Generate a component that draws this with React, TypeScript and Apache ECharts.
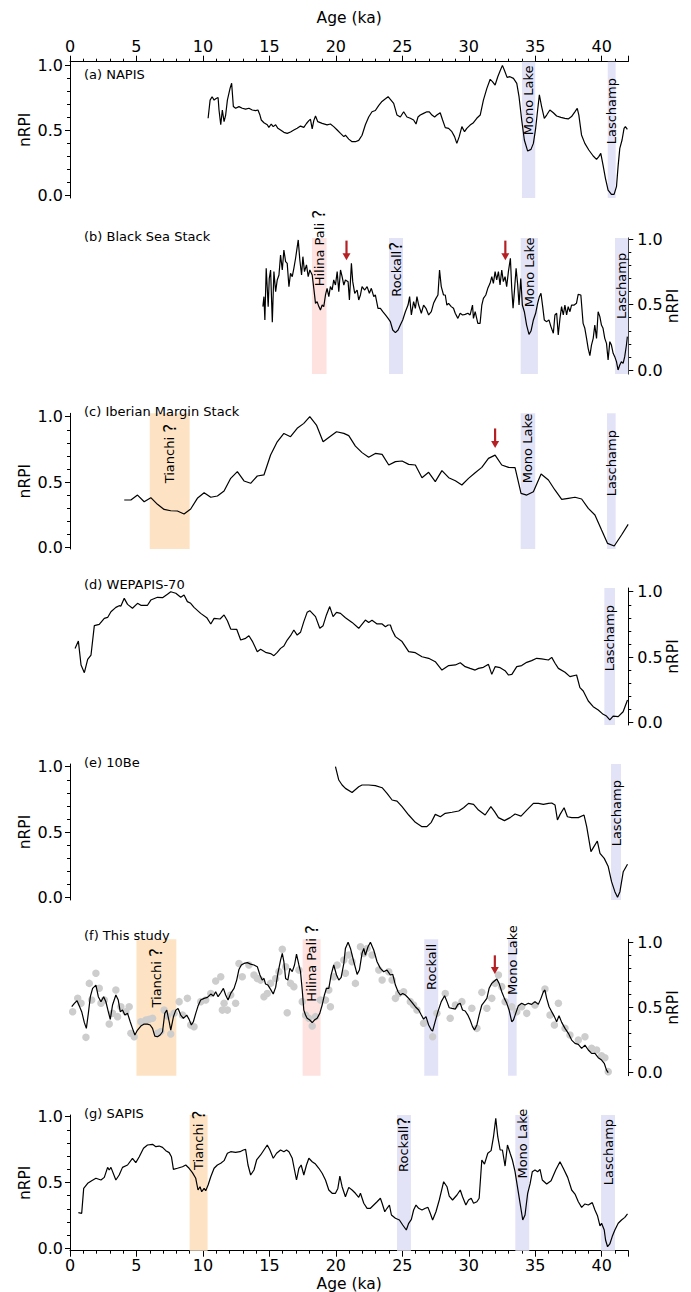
import React, { useEffect, useRef } from "react";
import * as echarts from "echarts";

// ---------------- data ----------------
const AGE_MIN = 0;
const AGE_MAX = 42;
const AGE_TICK_STEP = 5;
const RPI_TICK_STEP = 0.5;

const panelTitles = [
  "(a) NAPIS",
  "(b) Black Sea Stack",
  "(c) Iberian Margin Stack",
  "(d) WEPAPIS-70",
  "(e) 10Be",
  "(f) This study",
  "(g) SAPIS",
];

const napis: [number, number][] = [
  [10.39, 0.59], [10.54, 0.73], [10.69, 0.756], [10.84, 0.73], [10.96, 0.74], [11.14, 0.75], [11.21, 0.654],
  [11.34, 0.54], [11.46, 0.654], [11.59, 0.564], [11.71, 0.615], [11.84, 0.73], [12.04, 0.82], [12.16, 0.86],
  [12.29, 0.68], [12.46, 0.667], [12.71, 0.68], [12.96, 0.667], [13.21, 0.66], [13.46, 0.667], [13.71, 0.654],
  [13.96, 0.649], [14.14, 0.654], [14.29, 0.615], [14.39, 0.577], [14.59, 0.556], [14.84, 0.54], [14.96, 0.52],
  [15.14, 0.546], [15.29, 0.526], [15.47, 0.54], [15.64, 0.513], [15.84, 0.5], [16.09, 0.482], [16.34, 0.474],
  [16.59, 0.485], [16.84, 0.5], [17.09, 0.513], [17.34, 0.53], [17.59, 0.52], [17.79, 0.55], [17.97, 0.572],
  [18.09, 0.582], [18.22, 0.508], [18.34, 0.572], [18.47, 0.608], [18.64, 0.564], [18.97, 0.551], [19.34, 0.54],
  [19.59, 0.546], [19.84, 0.526], [20.1, 0.5], [20.35, 0.474], [20.6, 0.449], [20.72, 0.46], [20.97, 0.43],
  [21.22, 0.41], [21.47, 0.41], [21.72, 0.42], [21.97, 0.46], [22.22, 0.54], [22.47, 0.6], [22.72, 0.64],
  [22.97, 0.65], [23.23, 0.69], [23.47, 0.72], [23.73, 0.74], [23.93, 0.756], [24.1, 0.736], [24.35, 0.705],
  [24.6, 0.615], [24.85, 0.6], [25.1, 0.64], [25.35, 0.6], [25.6, 0.59], [25.85, 0.577], [26.03, 0.546],
  [26.18, 0.6], [26.35, 0.615], [26.6, 0.628], [26.85, 0.64], [27.03, 0.64], [27.23, 0.615], [27.43, 0.6],
  [27.6, 0.615], [27.85, 0.633], [28.03, 0.577], [28.23, 0.518], [28.48, 0.513], [28.73, 0.487], [28.93, 0.449],
  [29.1, 0.397], [29.28, 0.449], [29.48, 0.526], [29.68, 0.487], [29.85, 0.513], [30.1, 0.538], [30.35, 0.556],
  [30.6, 0.59], [30.86, 0.615], [31.1, 0.73], [31.36, 0.82], [31.61, 0.89], [31.78, 0.872], [31.98, 0.846],
  [32.18, 0.91], [32.36, 0.956], [32.53, 0.997], [32.68, 0.96], [32.88, 0.905], [33.1, 0.91], [33.36, 0.897],
  [33.61, 0.859], [33.78, 0.756], [33.98, 0.577], [34.18, 0.423], [34.43, 0.338], [34.68, 0.351], [34.86, 0.397],
  [35.03, 0.513], [35.18, 0.654], [35.31, 0.77], [35.48, 0.68], [35.68, 0.59], [35.86, 0.615], [36.1, 0.654],
  [36.36, 0.633], [36.61, 0.608], [36.93, 0.597], [37.23, 0.59], [37.48, 0.585], [37.73, 0.603], [37.98, 0.64],
  [38.16, 0.667], [38.28, 0.615], [38.48, 0.462], [38.73, 0.397], [39.03, 0.346], [39.36, 0.3], [39.61, 0.274],
  [39.78, 0.295], [39.93, 0.32], [40.1, 0.23], [40.28, 0.128], [40.48, 0.038], [40.73, 0.005], [40.93, 0.005],
  [41.11, 0.064], [41.23, 0.218], [41.36, 0.359], [41.53, 0.423], [41.68, 0.513], [41.78, 0.526], [41.93, 0.505],
];

const blackSea: [number, number][] = [
  [14.51, 0.485], [14.59, 0.561], [14.66, 0.383], [14.76, 0.778], [14.84, 0.625], [14.91, 0.485], [14.99, 0.7],
  [15.09, 0.765], [15.22, 0.365], [15.34, 0.753], [15.47, 0.6], [15.59, 0.689], [15.72, 0.727], [15.84, 0.88],
  [15.97, 0.765], [16.09, 0.918], [16.22, 0.829], [16.34, 0.816], [16.47, 0.638], [16.59, 0.74], [16.72, 0.714],
  [16.84, 0.778], [16.97, 0.855], [17.17, 0.995], [17.29, 0.842], [17.42, 0.727], [17.52, 0.867], [17.64, 0.753],
  [17.79, 0.804], [17.92, 0.714], [18.04, 0.765], [18.22, 0.727], [18.34, 0.625], [18.47, 0.51], [18.59, 0.523],
  [18.72, 0.485], [18.84, 0.459], [18.97, 0.497], [19.09, 0.485], [19.22, 0.574], [19.34, 0.625], [19.47, 0.561],
  [19.59, 0.638], [19.72, 0.612], [19.84, 0.689], [19.97, 0.65], [20.1, 0.753], [20.22, 0.6], [20.35, 0.765],
  [20.47, 0.714], [20.6, 0.65], [20.72, 0.689], [20.92, 0.676], [21.02, 0.536], [21.17, 0.816], [21.27, 0.676],
  [21.42, 0.587], [21.6, 0.612], [21.72, 0.536], [21.85, 0.574], [21.97, 0.638], [22.17, 0.612], [22.35, 0.638],
  [22.52, 0.587], [22.67, 0.625], [22.85, 0.561], [22.97, 0.574], [23.17, 0.472], [23.35, 0.472], [23.53, 0.446],
  [23.73, 0.421], [23.93, 0.395], [24.1, 0.37], [24.28, 0.306], [24.48, 0.286], [24.68, 0.306], [24.85, 0.344],
  [25.03, 0.383], [25.23, 0.446], [25.43, 0.497], [25.55, 0.561], [25.68, 0.421], [25.85, 0.523], [25.98, 0.472],
  [26.1, 0.561], [26.23, 0.497], [26.43, 0.434], [26.6, 0.497], [26.78, 0.472], [26.98, 0.421], [27.18, 0.446],
  [27.35, 0.51], [27.53, 0.548], [27.68, 0.574], [27.8, 0.765], [27.93, 0.638], [28.1, 0.574], [28.23, 0.574],
  [28.35, 0.497], [28.48, 0.51], [28.68, 0.485], [28.85, 0.472], [28.98, 0.434], [29.18, 0.395], [29.35, 0.434],
  [29.53, 0.421], [29.73, 0.426], [29.93, 0.434], [30.1, 0.421], [30.28, 0.497], [30.35, 0.395], [30.48, 0.446],
  [30.68, 0.357], [30.85, 0.357], [30.98, 0.497], [31.1, 0.548], [31.28, 0.574], [31.43, 0.625], [31.6, 0.663],
  [31.73, 0.714], [31.85, 0.663], [31.98, 0.753], [32.1, 0.689], [32.23, 0.753], [32.35, 0.65], [32.48, 0.765],
  [32.6, 0.676], [32.73, 0.714], [32.85, 0.638], [32.98, 0.753], [33.13, 0.855], [33.23, 0.625], [33.33, 0.472],
  [33.43, 0.6], [33.56, 0.778], [33.68, 0.65], [33.78, 0.497], [33.91, 0.7], [34.03, 0.497], [34.18, 0.446],
  [34.35, 0.344], [34.53, 0.273], [34.68, 0.298], [34.86, 0.383], [35.03, 0.434], [35.18, 0.51], [35.31, 0.561],
  [35.43, 0.587], [35.56, 0.485], [35.68, 0.383], [35.86, 0.37], [36.03, 0.383], [36.18, 0.332], [36.36, 0.281],
  [36.48, 0.421], [36.61, 0.434], [36.73, 0.268], [36.86, 0.395], [36.98, 0.485], [37.11, 0.421], [37.23, 0.497],
  [37.36, 0.421], [37.48, 0.485], [37.61, 0.446], [37.73, 0.497], [37.93, 0.497], [38.1, 0.51], [38.23, 0.579],
  [38.43, 0.574], [38.6, 0.357], [38.73, 0.319], [38.86, 0.242], [38.98, 0.166], [39.11, 0.11], [39.23, 0.191],
  [39.36, 0.242], [39.48, 0.344], [39.61, 0.242], [39.73, 0.446], [39.86, 0.408], [39.98, 0.344], [40.1, 0.319],
  [40.23, 0.242], [40.36, 0.204], [40.48, 0.077], [40.61, 0.217], [40.73, 0.191], [40.86, 0.128], [40.98, 0.102],
  [41.11, 0.064], [41.23, 0.0], [41.36, 0.038], [41.48, 0.064], [41.61, 0.051], [41.73, 0.102], [41.86, 0.191],
  [41.93, 0.255],
];

const iberian: [number, number][] = [
  [4.08, 0.362], [4.58, 0.362], [5.08, 0.4], [5.58, 0.349], [6.08, 0.38], [6.58, 0.329], [7.08, 0.29],
  [7.58, 0.28], [8.08, 0.278], [8.58, 0.255], [9.08, 0.293], [9.58, 0.375], [10.09, 0.418], [10.59, 0.383],
  [11.09, 0.393], [11.59, 0.431], [12.09, 0.528], [12.59, 0.579], [13.09, 0.508], [13.59, 0.49], [14.09, 0.546],
  [14.59, 0.554], [15.09, 0.707], [15.59, 0.808], [16.09, 0.872], [16.59, 0.847], [17.09, 0.911], [17.59, 0.949],
  [18.04, 1.0], [18.54, 0.936], [19.04, 0.808], [19.54, 0.847], [20.05, 0.885], [20.6, 0.872], [20.97, 0.855],
  [21.47, 0.775], [21.97, 0.725], [22.47, 0.689], [22.97, 0.719], [23.48, 0.712], [23.98, 0.63], [24.48, 0.656],
  [24.98, 0.661], [25.48, 0.635], [25.98, 0.63], [26.48, 0.533], [26.98, 0.574], [27.48, 0.503], [27.98, 0.587],
  [28.49, 0.533], [28.99, 0.51], [29.48, 0.477], [29.98, 0.528], [30.48, 0.571], [30.98, 0.612], [31.48, 0.681],
  [31.98, 0.706], [32.48, 0.63], [32.99, 0.612], [33.48, 0.61], [33.93, 0.413], [34.36, 0.4], [34.86, 0.426],
  [35.44, 0.561], [35.99, 0.515], [36.48, 0.439], [36.99, 0.367], [37.49, 0.375], [37.99, 0.383], [38.49, 0.37],
  [38.99, 0.298], [39.49, 0.247], [39.99, 0.132], [40.44, 0.03], [40.94, 0.01], [41.49, 0.094], [41.99, 0.176],
];

const wepapis: [number, number][] = [
  [0.38, 0.566], [0.63, 0.622], [0.83, 0.439], [1.08, 0.38], [1.33, 0.482], [1.58, 0.515], [1.83, 0.74],
  [2.2, 0.75], [2.58, 0.796], [2.83, 0.803], [3.08, 0.847], [3.45, 0.88], [3.7, 0.893], [3.83, 0.89],
  [4.08, 0.949], [4.33, 0.903], [4.7, 0.873], [5.08, 0.911], [5.33, 0.896], [5.83, 0.896], [6.08, 0.936],
  [6.58, 0.957], [6.96, 0.954], [7.33, 0.98], [7.58, 1.0], [7.96, 0.988], [8.33, 0.957], [8.58, 0.975],
  [8.83, 0.924], [9.08, 0.911], [9.33, 0.88], [9.83, 0.834], [10.29, 0.801], [10.59, 0.753], [10.84, 0.796],
  [11.29, 0.791], [11.59, 0.822], [11.84, 0.778], [12.09, 0.714], [12.54, 0.712], [12.84, 0.63], [13.21, 0.643],
  [13.46, 0.663], [13.71, 0.622], [14.09, 0.541], [14.34, 0.559], [14.71, 0.536], [15.09, 0.526], [15.34, 0.51],
  [15.59, 0.536], [15.84, 0.566], [16.09, 0.584], [16.34, 0.63], [16.59, 0.663], [16.84, 0.707], [17.09, 0.668],
  [17.34, 0.689], [17.59, 0.771], [17.84, 0.842], [18.04, 0.855], [18.47, 0.809], [18.79, 0.72], [19.04, 0.74],
  [19.29, 0.822], [19.54, 0.886], [19.79, 0.809], [20.05, 0.842], [20.35, 0.834], [20.72, 0.8], [21.22, 0.765],
  [21.72, 0.72], [22.22, 0.783], [22.47, 0.765], [22.72, 0.781], [23.1, 0.753], [23.48, 0.753], [23.73, 0.732],
  [23.93, 0.745], [24.1, 0.745], [24.23, 0.707], [24.48, 0.656], [24.98, 0.618], [25.48, 0.541], [25.98, 0.533],
  [26.48, 0.502], [26.98, 0.49], [27.48, 0.464], [27.98, 0.4], [28.49, 0.434], [28.99, 0.439], [29.36, 0.456],
  [29.73, 0.426], [30.1, 0.413], [30.48, 0.4], [30.73, 0.413], [31.1, 0.421], [31.48, 0.444], [31.73, 0.367],
  [31.98, 0.426], [32.36, 0.418], [32.73, 0.395], [32.99, 0.362], [33.24, 0.367], [33.61, 0.426], [33.98, 0.434],
  [34.36, 0.459], [34.73, 0.472], [35.11, 0.49], [35.48, 0.485], [35.99, 0.477], [36.24, 0.497], [36.49, 0.452],
  [36.74, 0.413], [37.24, 0.383], [37.61, 0.35], [38.11, 0.362], [38.36, 0.265], [38.61, 0.24], [38.99, 0.163],
  [39.36, 0.12], [39.74, 0.094], [40.11, 0.061], [40.36, 0.048], [40.61, 0.018], [40.86, 0.048], [41.24, 0.043],
  [41.61, 0.081], [41.94, 0.171],
];

const be10: [number, number][] = [
  [19.97, 1.0], [20.22, 0.898], [20.47, 0.86], [20.72, 0.834], [21.22, 0.803], [21.72, 0.847], [21.97, 0.86],
  [22.47, 0.86], [22.97, 0.855], [23.48, 0.839], [23.85, 0.796], [24.23, 0.745], [24.6, 0.737], [24.98, 0.694],
  [25.48, 0.63], [25.98, 0.574], [26.48, 0.541], [26.85, 0.541], [27.18, 0.574], [27.48, 0.635], [27.86, 0.617],
  [28.23, 0.643], [28.74, 0.651], [29.24, 0.661], [29.61, 0.686], [29.98, 0.719], [30.36, 0.712], [30.73, 0.668],
  [31.23, 0.63], [31.66, 0.694], [31.94, 0.656], [32.23, 0.61], [32.68, 0.587], [33.11, 0.61], [33.48, 0.638],
  [33.93, 0.622], [34.36, 0.668], [34.86, 0.719], [35.24, 0.719], [35.61, 0.712], [35.99, 0.719], [36.24, 0.722],
  [36.49, 0.706], [36.67, 0.592], [36.87, 0.635], [37.17, 0.686], [37.42, 0.617], [37.74, 0.61], [38.24, 0.61],
  [38.67, 0.63], [38.87, 0.541], [39.19, 0.35], [39.37, 0.38], [39.67, 0.431], [39.87, 0.337], [40.19, 0.298],
  [40.49, 0.235], [40.74, 0.12], [40.99, 0.043], [41.19, 0.0], [41.37, 0.043], [41.62, 0.196], [41.94, 0.253],
];

const thisStudyLine: [number, number][] = [
  [0.13, 0.506], [0.33, 0.532], [0.53, 0.552], [0.7, 0.511], [0.88, 0.468], [1.08, 0.384], [1.23, 0.34],
  [1.38, 0.455], [1.53, 0.583], [1.7, 0.647], [1.95, 0.672], [2.13, 0.583], [2.33, 0.544], [2.53, 0.583],
  [2.7, 0.544], [2.88, 0.468], [3.03, 0.409], [3.2, 0.519], [3.45, 0.596], [3.63, 0.557], [3.78, 0.468],
  [3.95, 0.48], [4.13, 0.442], [4.33, 0.455], [4.53, 0.391], [4.7, 0.34], [4.88, 0.289], [5.08, 0.327],
  [5.33, 0.358], [5.58, 0.373], [5.83, 0.373], [6.03, 0.366], [6.21, 0.34], [6.38, 0.281], [6.58, 0.276],
  [6.78, 0.289], [6.96, 0.314], [7.13, 0.455], [7.28, 0.48], [7.46, 0.391], [7.58, 0.327], [7.78, 0.429],
  [7.96, 0.48], [8.13, 0.493], [8.33, 0.442], [8.53, 0.417], [8.78, 0.442], [8.96, 0.409], [9.13, 0.366],
  [9.28, 0.391], [9.46, 0.455], [9.63, 0.511], [9.83, 0.557], [10.09, 0.57], [10.34, 0.578], [10.59, 0.603],
  [10.79, 0.588], [10.96, 0.621], [11.14, 0.583], [11.34, 0.613], [11.54, 0.647], [11.71, 0.596], [11.89, 0.557],
  [12.09, 0.608], [12.34, 0.647], [12.54, 0.71], [12.71, 0.792], [12.89, 0.826], [13.09, 0.838], [13.34, 0.844],
  [13.59, 0.833], [13.84, 0.826], [14.09, 0.813], [14.29, 0.749], [14.46, 0.71], [14.59, 0.723], [14.71, 0.68],
  [14.89, 0.672], [15.09, 0.639], [15.29, 0.603], [15.47, 0.654], [15.64, 0.762], [15.84, 0.864], [15.97, 0.915],
  [16.09, 0.851], [16.22, 0.723], [16.39, 0.71], [16.54, 0.8], [16.72, 0.775], [16.89, 0.826], [17.04, 0.91],
  [17.22, 0.826], [17.34, 0.775], [17.47, 0.634], [17.59, 0.48], [17.72, 0.442], [17.84, 0.417], [18.04, 0.404],
  [18.22, 0.384], [18.39, 0.404], [18.59, 0.417], [18.79, 0.455], [18.97, 0.519], [19.14, 0.596], [19.29, 0.647],
  [19.47, 0.647], [19.64, 0.749], [19.84, 0.826], [20.05, 0.749], [20.22, 0.71], [20.4, 0.731], [20.6, 0.838],
  [20.72, 0.953], [20.92, 1.0], [21.1, 0.953], [21.35, 0.851], [21.6, 0.754], [21.77, 0.787], [21.97, 0.915],
  [22.1, 0.953], [22.22, 0.902], [22.42, 0.966], [22.6, 1.0], [22.85, 0.941], [23.1, 0.851], [23.35, 0.8],
  [23.6, 0.774], [23.85, 0.787], [24.1, 0.749], [24.28, 0.754], [24.48, 0.672], [24.68, 0.621], [24.85, 0.596],
  [25.03, 0.608], [25.23, 0.596], [25.43, 0.575], [25.68, 0.545], [25.98, 0.506], [26.23, 0.481], [26.43, 0.442],
  [26.6, 0.411], [26.78, 0.43], [26.98, 0.366], [27.18, 0.327], [27.28, 0.32], [27.48, 0.396], [27.68, 0.468],
  [27.93, 0.545], [28.18, 0.59], [28.36, 0.545], [28.53, 0.498], [28.74, 0.493], [28.99, 0.488], [29.18, 0.524],
  [29.36, 0.532], [29.53, 0.481], [29.73, 0.473], [29.93, 0.442], [30.1, 0.404], [30.28, 0.353], [30.43, 0.327],
  [30.61, 0.366], [30.78, 0.442], [30.98, 0.519], [31.18, 0.545], [31.36, 0.57], [31.53, 0.647], [31.73, 0.685],
  [31.93, 0.703], [32.11, 0.718], [32.28, 0.685], [32.48, 0.621], [32.68, 0.57], [32.86, 0.532], [33.03, 0.481],
  [33.23, 0.391], [33.36, 0.404], [33.53, 0.455], [33.73, 0.514], [33.98, 0.532], [34.23, 0.519], [34.48, 0.532],
  [34.73, 0.524], [34.98, 0.545], [35.23, 0.524], [35.43, 0.57], [35.61, 0.621], [35.73, 0.634], [35.86, 0.57],
  [36.04, 0.506], [36.24, 0.468], [36.44, 0.43], [36.61, 0.391], [36.79, 0.437], [36.99, 0.386], [37.24, 0.34],
  [37.49, 0.302], [37.74, 0.25], [37.99, 0.225], [38.24, 0.217], [38.49, 0.187], [38.74, 0.212], [38.99, 0.174],
  [39.24, 0.148], [39.49, 0.148], [39.74, 0.115], [39.99, 0.097], [40.19, 0.072], [40.36, 0.02], [40.49, 0.0],
];

const thisStudyPoints: [number, number][] = [
  [0.2, 0.468], [0.58, 0.57], [0.83, 0.532], [1.2, 0.271], [1.45, 0.685], [1.63, 0.557], [1.95, 0.762],
  [2.2, 0.647], [2.33, 0.532], [2.58, 0.557], [2.95, 0.373], [3.2, 0.455], [3.45, 0.634], [3.58, 0.43],
  [3.83, 0.506], [4.2, 0.468], [4.45, 0.506], [4.58, 0.302], [4.83, 0.276], [5.33, 0.391], [5.71, 0.404],
  [5.96, 0.409], [6.21, 0.417], [6.58, 0.302], [6.83, 0.315], [7.08, 0.48], [7.33, 0.435], [7.58, 0.297],
  [7.83, 0.455], [8.21, 0.545], [8.46, 0.442], [8.83, 0.57], [9.08, 0.366], [9.33, 0.353], [9.83, 0.545],
  [10.21, 0.557], [10.59, 0.608], [10.96, 0.703], [11.34, 0.736], [11.46, 0.48], [11.59, 0.532], [11.84, 0.48],
  [12.09, 0.596], [12.46, 0.532], [12.71, 0.838], [12.96, 0.736], [13.46, 0.826], [13.84, 0.749], [14.09, 0.723],
  [14.34, 0.71], [14.59, 0.583], [14.84, 0.608], [15.09, 0.685], [15.47, 0.723], [15.72, 0.775], [15.97, 0.946],
  [16.22, 0.813], [16.34, 0.46], [16.59, 0.685], [16.84, 0.66], [17.22, 0.787], [17.47, 0.545], [17.72, 0.442],
  [17.97, 0.417], [18.22, 0.358], [18.47, 0.43], [18.84, 0.557], [19.22, 0.557], [19.47, 0.634], [19.59, 0.506],
  [19.84, 0.736], [20.1, 0.826], [20.6, 0.864], [20.72, 0.762], [20.97, 0.902], [21.22, 0.851], [21.47, 0.685],
  [21.85, 0.966], [22.1, 0.915], [22.35, 0.953], [22.72, 0.902], [23.23, 0.787], [23.48, 0.711], [23.98, 0.774],
  [24.23, 0.711], [24.48, 0.57], [24.73, 0.608], [25.1, 0.621], [25.6, 0.545], [25.85, 0.519], [26.1, 0.481],
  [26.6, 0.379], [27.28, 0.276], [27.6, 0.455], [28.23, 0.608], [28.6, 0.417], [28.99, 0.519], [29.48, 0.545],
  [30.23, 0.494], [30.61, 0.34], [30.98, 0.616], [31.36, 0.494], [31.73, 0.57], [31.98, 0.685], [32.23, 0.749],
  [32.48, 0.66], [32.73, 0.545], [33.23, 0.506], [33.61, 0.468], [33.98, 0.506], [34.36, 0.455], [34.98, 0.519],
  [35.73, 0.642], [36.11, 0.442], [36.44, 0.366], [36.74, 0.532], [37.24, 0.34], [37.61, 0.289], [38.24, 0.251],
  [38.74, 0.276], [39.24, 0.187], [39.62, 0.174], [39.99, 0.13], [40.24, 0.115], [40.49, 0.008],
];

const sapis: [number, number][] = [
  [0.63, 0.271], [0.88, 0.266], [1.03, 0.455], [1.33, 0.494], [1.63, 0.514], [1.95, 0.532], [2.33, 0.519],
  [2.58, 0.539], [2.83, 0.615], [2.95, 0.595], [3.08, 0.615], [3.45, 0.519], [3.7, 0.557], [3.95, 0.615],
  [4.33, 0.633], [4.7, 0.684], [4.95, 0.651], [5.21, 0.696], [5.53, 0.76], [5.83, 0.785], [6.21, 0.79],
  [6.46, 0.772], [6.71, 0.777], [6.96, 0.767], [7.21, 0.742], [7.46, 0.727], [7.63, 0.696], [7.78, 0.6],
  [8.08, 0.608], [8.46, 0.62], [8.71, 0.633], [8.96, 0.608], [9.21, 0.575], [9.46, 0.532], [9.63, 0.443],
  [9.78, 0.468], [9.91, 0.43], [10.09, 0.455], [10.21, 0.438], [10.39, 0.481], [10.59, 0.544], [10.84, 0.608],
  [11.09, 0.633], [11.34, 0.646], [11.59, 0.666], [11.84, 0.722], [12.09, 0.734], [12.46, 0.729], [12.79, 0.734],
  [13.04, 0.747], [13.21, 0.752], [13.39, 0.633], [13.59, 0.557], [13.84, 0.595], [14.04, 0.671], [14.34, 0.709],
  [14.59, 0.747], [14.84, 0.785], [15.04, 0.747], [15.29, 0.684], [15.54, 0.722], [15.84, 0.747], [16.09, 0.734],
  [16.29, 0.747], [16.47, 0.734], [16.72, 0.684], [16.89, 0.595], [17.04, 0.519], [17.22, 0.608], [17.39, 0.633],
  [17.59, 0.557], [17.79, 0.633], [17.97, 0.684], [18.22, 0.658], [18.47, 0.64], [18.72, 0.608], [18.97, 0.57],
  [19.22, 0.519], [19.47, 0.443], [19.72, 0.418], [19.97, 0.418], [20.15, 0.455], [20.3, 0.549], [20.47, 0.468],
  [20.72, 0.392], [20.97, 0.463], [21.22, 0.443], [21.47, 0.418], [21.72, 0.387], [21.85, 0.418], [22.1, 0.342],
  [22.35, 0.304], [22.6, 0.304], [22.85, 0.329], [23.1, 0.354], [23.35, 0.38], [23.48, 0.342], [23.68, 0.278],
  [23.85, 0.304], [24.03, 0.329], [24.18, 0.253], [24.48, 0.228], [24.78, 0.215], [25.03, 0.177], [25.3, 0.139],
  [25.48, 0.19], [25.68, 0.22], [25.85, 0.291], [26.03, 0.329], [26.23, 0.304], [26.48, 0.291], [26.73, 0.304],
  [26.93, 0.311], [27.1, 0.266], [27.28, 0.215], [27.53, 0.278], [27.78, 0.367], [28.11, 0.506], [28.36, 0.468],
  [28.53, 0.397], [28.78, 0.367], [29.11, 0.405], [29.36, 0.443], [29.53, 0.392], [29.78, 0.329], [29.98, 0.367],
  [30.18, 0.38], [30.36, 0.342], [30.61, 0.354], [30.78, 0.38], [30.98, 0.671], [31.18, 0.64], [31.43, 0.722],
  [31.68, 0.742], [31.86, 0.848], [32.03, 0.987], [32.18, 0.848], [32.36, 0.747], [32.53, 0.747], [32.73, 0.625],
  [32.91, 0.785], [33.11, 0.722], [33.28, 0.671], [33.48, 0.582], [33.68, 0.456], [33.86, 0.342], [34.06, 0.215],
  [34.23, 0.253], [34.43, 0.418], [34.61, 0.489], [34.78, 0.582], [34.98, 0.595], [35.18, 0.582], [35.36, 0.6],
  [35.53, 0.519], [35.86, 0.489], [36.19, 0.514], [36.54, 0.595], [36.86, 0.658], [37.11, 0.608], [37.44, 0.539],
  [37.74, 0.443], [37.99, 0.412], [38.24, 0.354], [38.49, 0.311], [38.74, 0.337], [38.99, 0.329], [39.29, 0.347],
  [39.49, 0.291], [39.69, 0.245], [39.87, 0.17], [39.99, 0.19], [40.19, 0.139], [40.29, 0.063], [40.44, 0.012],
  [40.61, 0.033], [40.79, 0.089], [40.99, 0.139], [41.24, 0.19], [41.49, 0.215], [41.74, 0.235], [41.94, 0.261],
];

// excursion intervals (ka): [start, end, name, kind]
const bandsA: [number, number, string, string][] = [
  [34.0, 35.0, "Mono Lake", "blue"], [40.45, 41.05, "Laschamp", "blue"],
];
const bandsB: [number, number, string, string][] = [
  [18.2, 19.3, "Hilina Pali ?", "pink"], [24.0, 25.05, "Rockall?", "blue"],
  [33.9, 35.2, "Mono Lake", "blue"], [41.0, 42.0, "Laschamp", "blue"],
];
const bandsC: [number, number, string, string][] = [
  [6.0, 9.0, "Tianchi ?", "orange"], [33.9, 35.0, "Mono Lake", "blue"], [40.4, 41.05, "Laschamp", "blue"],
];
const bandsD: [number, number, string, string][] = [[40.2, 41.0, "Laschamp", "blue"]];
const bandsE: [number, number, string, string][] = [[40.7, 41.45, "Laschamp", "blue"]];
const bandsF: [number, number, string, string][] = [
  [5.0, 8.0, "Tianchi ?", "orange"], [17.5, 18.85, "Hilina Pali ?", "pink"],
  [26.65, 27.7, "Rockall", "blue"], [32.95, 33.6, "Mono Lake", "blue"],
];
const bandsG: [number, number, string, string][] = [
  [9.0, 10.35, "Tianchi ?", "orange"], [24.6, 25.65, "Rockall?", "blue"],
  [33.5, 34.55, "Mono Lake", "blue"], [39.95, 41.0, "Laschamp", "blue"],
];

// label start (rotated text runs upward from here), nRPI units, one per band
const labelStartA = [0.46, 0.39];
const labelStartB = [0.64, 0.56, 0.48, 0.39];
const labelStartC = [0.49, 0.49, 0.39];
const labelStartD = [0.39];
const labelStartE = [0.39];
const labelStartF = [0.5, 0.545, 0.634, 0.596];
const labelStartG = [0.595, 0.58, 0.53, 0.48];

// red arrows: [age, nRPI top, nRPI tip]
const arrowsB: [number, number, number][] = [[20.8, 0.99, 0.84], [32.75, 0.99, 0.84]];
const arrowsC: [number, number, number][] = [[31.98, 0.91, 0.76]];
const arrowsF: [number, number, number][] = [[31.96, 0.9, 0.757]];

// ---------------- layout / style ----------------
const FONT = "DejaVu Sans";
const W = 691;
const H = 1292;
const PLOT_LEFT = 70;
const PLOT_RIGHT = 62.7;

const BAND_COLORS: Record<string, string> = {
  blue: "#e3e3f8",
  pink: "#fde2e0",
  orange: "#fde3c3",
};

type Panel = {
  line: [number, number][];
  points?: [number, number][];
  bands: [number, number, string, string][];
  labelStart: number[];
  arrows: [number, number, number][];
  side: "left" | "right";
  dataTop: number;
  dataH: number;
  bandTop: number;
  bandBottom: number;
  titleY: number;
};

const panels: Panel[] = [
  { line: napis, bands: bandsA, labelStart: labelStartA, arrows: [], side: "left", dataTop: 65, dataH: 130, bandTop: 61.7, bandBottom: 198, titleY: 74 },
  { line: blackSea, bands: bandsB, labelStart: labelStartB, arrows: arrowsB, side: "right", dataTop: 239.3, dataH: 130.7, bandTop: 238, bandBottom: 374, titleY: 236 },
  { line: iberian, bands: bandsC, labelStart: labelStartC, arrows: arrowsC, side: "left", dataTop: 416.7, dataH: 130.6, bandTop: 413.3, bandBottom: 549, titleY: 411 },
  { line: wepapis, bands: bandsD, labelStart: labelStartD, arrows: [], side: "right", dataTop: 591.7, dataH: 130.6, bandTop: 588, bandBottom: 725, titleY: 584.3 },
  { line: be10, bands: bandsE, labelStart: labelStartE, arrows: [], side: "left", dataTop: 766.7, dataH: 130.6, bandTop: 764, bandBottom: 900, titleY: 762.3 },
  { line: thisStudyLine, points: thisStudyPoints, bands: bandsF, labelStart: labelStartF, arrows: arrowsF, side: "right", dataTop: 942.3, dataH: 130.4, bandTop: 939.3, bandBottom: 1075.7, titleY: 935 },
  { line: sapis, bands: bandsG, labelStart: labelStartG, arrows: [], side: "left", dataTop: 1116.7, dataH: 131.6, bandTop: 1115, bandBottom: 1250.7, titleY: 1113.3 },
];

function richLabel(s: string) {
  const i = s.indexOf("?");
  if (i < 0) return s;
  return s.slice(0, i) + "{q|?}" + s.slice(i + 1);
}

function buildOption() {
  const grid: any[] = [];
  const xAxis: any[] = [];
  const yAxis: any[] = [];
  const series: any[] = [];
  const graphic: any[] = [];

  const tickLabelStyle = { color: "#000", fontFamily: FONT, fontSize: 16 };

  panels.forEach((p, i) => {
    const bandIdx = 2 * i;
    const dataIdx = 2 * i + 1;
    grid.push({ left: PLOT_LEFT, right: PLOT_RIGHT, top: p.bandTop, height: p.bandBottom - p.bandTop });
    grid.push({ left: PLOT_LEFT, right: PLOT_RIGHT, top: p.dataTop, height: p.dataH });

    const isTop = i === 0;
    const isBottom = i === panels.length - 1;
    xAxis.push({
      type: "value",
      gridIndex: bandIdx,
      min: AGE_MIN,
      max: AGE_MAX,
      interval: AGE_TICK_STEP,
      show: isTop || isBottom,
      position: isTop ? "top" : "bottom",
      axisLine: { show: true, onZero: false, lineStyle: { color: "#000", width: 1 } },
      axisTick: { show: true, length: 6, lineStyle: { color: "#000" } },
      minorTick: { show: true, splitNumber: 5, length: 3, lineStyle: { color: "#000" } },
      axisLabel: { ...tickLabelStyle, margin: 7, showMaxLabel: false },
      splitLine: { show: false },
    });
    xAxis.push({ type: "value", gridIndex: dataIdx, min: AGE_MIN, max: AGE_MAX, show: false });

    yAxis.push({
      type: "value",
      gridIndex: bandIdx,
      min: 0,
      max: 1,
      position: p.side,
      axisLine: { show: true, onZero: false, lineStyle: { color: "#000", width: 1 } },
      axisTick: { show: false },
      axisLabel: { show: false },
      splitLine: { show: false },
    });
    yAxis.push({
      type: "value",
      gridIndex: dataIdx,
      min: 0,
      max: 1,
      interval: RPI_TICK_STEP,
      position: p.side,
      axisLine: { show: false, onZero: false },
      axisTick: { show: true, length: 5, lineStyle: { color: "#000" } },
      minorTick: { show: true, splitNumber: 5, length: 3, lineStyle: { color: "#000" } },
      axisLabel: { ...tickLabelStyle, margin: p.side === "left" ? 7 : 9, formatter: (v: number) => v.toFixed(1) },
      splitLine: { show: false },
    });

    // shaded excursion bands (full panel height)
    const bands = p.bands;
    series.push({
      type: "custom",
      xAxisIndex: bandIdx,
      yAxisIndex: bandIdx,
      silent: true,
      z: 1,
      data: bands.map((b) => [b[0], b[1]]),
      renderItem: (params: any, api: any) => {
        const a = api.coord([api.value(0), 1]);
        const b = api.coord([api.value(1), 0]);
        return {
          type: "rect",
          shape: { x: a[0], y: a[1], width: b[0] - a[0], height: b[1] - a[1] },
          style: { fill: BAND_COLORS[bands[params.dataIndex][3]] },
        };
      },
    });

    // band names (rotated)
    const starts = p.labelStart;
    series.push({
      type: "custom",
      xAxisIndex: dataIdx,
      yAxisIndex: dataIdx,
      silent: true,
      z: 5,
      data: bands.map((b, k) => [(b[0] + b[1]) / 2, starts[k]]),
      renderItem: (params: any, api: any) => {
        const pt = api.coord([api.value(0), api.value(1)]);
        return {
          type: "text",
          x: pt[0],
          y: pt[1],
          rotation: Math.PI / 2,
          style: {
            text: richLabel(bands[params.dataIndex][2]),
            fill: "#000",
            fontFamily: FONT,
            fontSize: 13,
            align: "left",
            verticalAlign: "middle",
            rich: { q: { fontSize: 17, fontFamily: FONT, fill: "#000" } },
          },
        };
      },
    });

    if (p.points) {
      series.push({
        type: "scatter",
        xAxisIndex: dataIdx,
        yAxisIndex: dataIdx,
        data: p.points,
        symbolSize: 7.5,
        itemStyle: { color: "#cdcdcd", opacity: 1 },
        z: 2,
        silent: true,
      });
    }

    series.push({
      type: "line",
      xAxisIndex: dataIdx,
      yAxisIndex: dataIdx,
      data: p.line,
      showSymbol: false,
      symbol: "none",
      lineStyle: { color: "#000", width: 1.2 },
      z: 3,
      silent: true,
    });

    if (p.arrows.length) {
      series.push({
        type: "custom",
        xAxisIndex: dataIdx,
        yAxisIndex: dataIdx,
        silent: true,
        z: 6,
        data: p.arrows,
        renderItem: (params: any, api: any) => {
          const top = api.coord([api.value(0), api.value(1)]);
          const tip = api.coord([api.value(0), api.value(2)]);
          const headH = 7;
          const headW = 4;
          return {
            type: "group",
            children: [
              {
                type: "line",
                shape: { x1: top[0], y1: top[1], x2: tip[0], y2: tip[1] - headH + 1 },
                style: { stroke: "#b52025", lineWidth: 2.2 },
              },
              {
                type: "polygon",
                shape: {
                  points: [
                    [tip[0] - headW, tip[1] - headH],
                    [tip[0] + headW, tip[1] - headH],
                    [tip[0], tip[1]],
                  ],
                },
                style: { fill: "#b52025" },
              },
            ],
          };
        },
      });
    }

    // panel title
    graphic.push({
      type: "text",
      x: 84,
      y: p.titleY,
      style: { text: panelTitles[i], fill: "#000", fontFamily: FONT, fontSize: 13, align: "left", verticalAlign: "middle" },
      z: 10,
    });
    // nRPI label
    graphic.push({
      type: "text",
      x: p.side === "left" ? 25 : 673,
      y: (p.bandTop + p.bandBottom) / 2,
      rotation: Math.PI / 2,
      style: { text: "nRPI", fill: "#000", fontFamily: FONT, fontSize: 15.5, align: "center", verticalAlign: "middle" },
      z: 10,
    });
  });

  const centerX = PLOT_LEFT + (W - PLOT_LEFT - PLOT_RIGHT) / 2;
  graphic.push({
    type: "text",
    x: centerX,
    y: 18,
    style: { text: "Age (ka)", fill: "#000", fontFamily: FONT, fontSize: 15.5, align: "center", verticalAlign: "middle" },
  });
  graphic.push({
    type: "text",
    x: centerX,
    y: 1284,
    style: { text: "Age (ka)", fill: "#000", fontFamily: FONT, fontSize: 15.5, align: "center", verticalAlign: "middle" },
  });

  return {
    animation: false,
    backgroundColor: "#ffffff",
    textStyle: { fontFamily: FONT },
    grid,
    xAxis,
    yAxis,
    series,
    graphic,
  };
}

export default function App() {
  const ref = useRef<HTMLDivElement>(null);
  useEffect(() => {
    if (!ref.current) return;
    const chart = echarts.init(ref.current, undefined, { renderer: "svg" });
    chart.setOption(buildOption() as any);
    return () => chart.dispose();
  }, []);
  return (
    <div
      ref={ref}
      style={{ position: "absolute", left: 0, top: 0, width: W, height: H, background: "#fff" }}
    />
  );
}
